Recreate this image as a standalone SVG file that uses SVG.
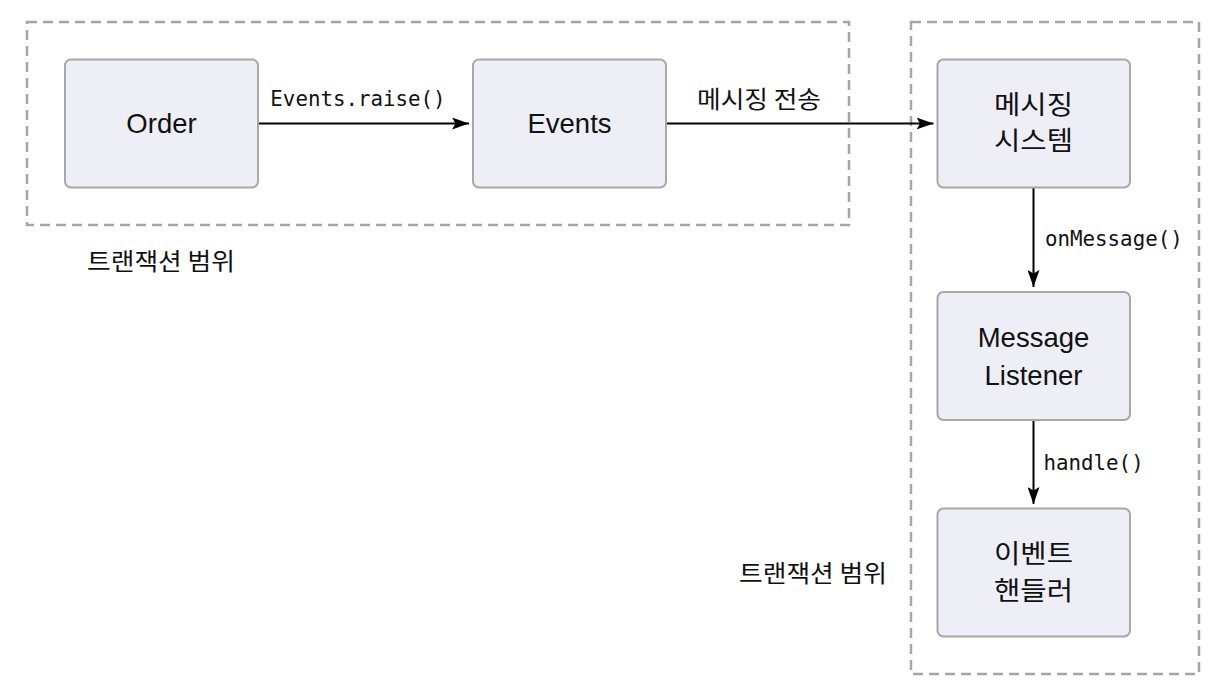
<svg xmlns="http://www.w3.org/2000/svg" width="1226" height="698" viewBox="0 0 1226 698">
<style>
.grp{fill:none;stroke:#a6a6a6;stroke-width:2.5;stroke-dasharray:10 6}
.box{fill:#eeeef7;stroke:#a8a8a8;stroke-width:2}
.nt{font-family:"Liberation Sans","Noto Sans CJK KR",sans-serif;font-size:27.5px;fill:#111;text-anchor:middle}
.kt{font-family:"Noto Sans CJK KR","Noto Sans",sans-serif;font-size:26px;fill:#111;text-anchor:middle}
.el{font-family:"DejaVu Sans Mono","Liberation Mono",monospace;font-size:20.8px;fill:#111}
.gl{font-family:"Noto Sans CJK KR","Noto Sans",sans-serif;font-size:24px;fill:#111}
.edge{fill:none;stroke:#000;stroke-width:2}
</style>
<defs>
<marker id="ah" viewBox="0 0 17 12" refX="17" refY="6" markerWidth="17" markerHeight="12" markerUnits="userSpaceOnUse" orient="auto">
<path d="M0,0 L17,6 L0,12 L3.5,6 Z" fill="#000"/>
</marker>
</defs>
<g id="group-left">
<rect class="grp" x="27" y="22" width="822" height="203"/>
<text class="gl" x="87" y="270" textLength="148" lengthAdjust="spacingAndGlyphs">트랜잭션 범위</text>
</g>
<g id="group-right">
<rect class="grp" x="911" y="22" width="288" height="652"/>
<text class="gl" x="739" y="582" textLength="148" lengthAdjust="spacingAndGlyphs">트랜잭션 범위</text>
</g>
<g id="connectors">
<line class="edge" x1="258" y1="123.5" x2="469" y2="123.5" marker-end="url(#ah)"/>
<text class="el" x="358" y="106" text-anchor="middle">Events.raise()</text>
<line class="edge" x1="666" y1="123.5" x2="933.5" y2="123.5" marker-end="url(#ah)"/>
<text class="gl" x="697" y="108" textLength="124" lengthAdjust="spacingAndGlyphs">메시징 전송</text>
<line class="edge" x1="1033.5" y1="187" x2="1033.5" y2="287" marker-end="url(#ah)"/>
<text class="el" x="1045" y="246">onMessage()</text>
<line class="edge" x1="1033.5" y1="420" x2="1033.5" y2="504" marker-end="url(#ah)"/>
<text class="el" x="1043.5" y="470">handle()</text>
</g>
<g id="node-order">
<rect class="box" x="65" y="59.5" width="193" height="128" rx="6"/>
<text class="nt" x="161.5" y="133">Order</text>
</g>
<g id="node-events">
<rect class="box" x="473" y="59.5" width="193" height="128" rx="6"/>
<text class="nt" x="569.5" y="133">Events</text>
</g>
<g id="node-messaging">
<rect class="box" x="937.5" y="59.5" width="192.5" height="128" rx="6"/>
<text class="kt" x="1033.5" y="114" textLength="79" lengthAdjust="spacingAndGlyphs">메시징</text>
<text class="kt" x="1033.5" y="150" textLength="79" lengthAdjust="spacingAndGlyphs">시스템</text>
</g>
<g id="node-listener">
<rect class="box" x="937.5" y="292" width="192.5" height="128" rx="6"/>
<text class="nt" x="1033.5" y="347">Message</text>
<text class="nt" x="1033.5" y="385">Listener</text>
</g>
<g id="node-handler">
<rect class="box" x="937.5" y="508.5" width="192.5" height="128" rx="6"/>
<text class="kt" x="1033.5" y="563" textLength="79" lengthAdjust="spacingAndGlyphs">이벤트</text>
<text class="kt" x="1033.5" y="600" textLength="79" lengthAdjust="spacingAndGlyphs">핸들러</text>
</g>
</svg>
